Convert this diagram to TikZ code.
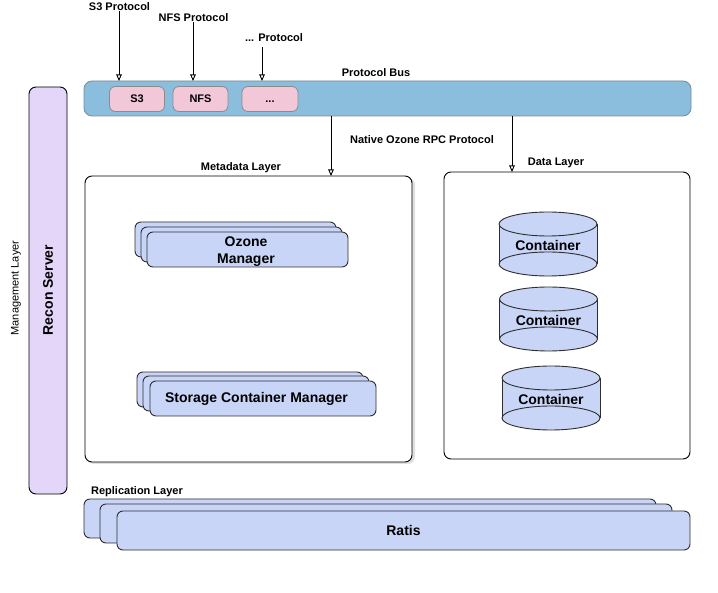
\documentclass[tikz,border=0pt]{standalone}
\usepackage{fontspec}
\setmainfont{Liberation Sans}
\usetikzlibrary{arrows.meta}
\definecolor{busfill}{HTML}{8BBEDD}
\definecolor{busline}{HTML}{7A8A96}
\definecolor{pinkfill}{HTML}{F2C8D9}
\definecolor{pinkline}{HTML}{8E8A8C}
\definecolor{bluefill}{HTML}{C8D5F7}
\definecolor{blueline}{HTML}{2E2E2E}
\definecolor{lavfill}{HTML}{E3D6F8}
\tikzset{
  small/.style={font=\fontsize{11}{13}\selectfont\bfseries},
  big/.style={font=\fontsize{14}{17}\selectfont\bfseries},
  busbox/.style={draw=busline, fill=busfill, rounded corners=8pt, line width=0.8pt},
  protobox/.style={draw=pinkline, fill=pinkfill, rounded corners=6pt, line width=0.8pt, text height=8pt, text depth=0pt},
  bluebox/.style={draw=blueline, fill=bluefill, rounded corners=6pt, line width=0.9pt},
  layerbox/.style={draw=black, fill=white, rounded corners=7pt, line width=0.9pt},
  flow/.style={-{Triangle[open,length=6.5pt,width=5.5pt]}, line width=0.9pt},
}
\begin{document}
\begin{tikzpicture}[x=1pt,y=-1pt]
\useasboundingbox[fill=white] (0,0) rectangle (718,593);

% Protocol bus
\node[small] (buslbl) at (376,73) {Protocol Bus};
\draw[busbox] (84,81) rectangle (691,116);
\coordinate (bustop1) at (119,81);
\coordinate (bustop2) at (193,81);
\coordinate (bustop3) at (262,81);
\coordinate (busbot1) at (331,116);
\coordinate (busbot2) at (512,116);
\node[protobox, minimum width=55pt, minimum height=25pt, small] (s3) at (137,99) {S3};
\node[protobox, minimum width=55pt, minimum height=25pt, small] (nfs) at (200.5,99) {NFS};
\node[protobox, minimum width=56pt, minimum height=25pt, small] (dots) at (270,99) {...};

% Protocol labels and arrows
\node[small] (s3lbl) at (119.5,7) {S3 Protocol};
\node[small] (nfslbl) at (193.5,18) {NFS Protocol};
\node[small] (dotslbl) at (274,38) {... Protocol};
\coordinate (s3start) at (119,11);
\coordinate (nfsstart) at (193,22);
\coordinate (dotsstart) at (262,47);
\draw[flow] (s3start) -- (bustop1);
\draw[flow] (nfsstart) -- (bustop2);
\draw[flow] (dotsstart) -- (bustop3);

% Recon server
\node[font=\fontsize{11}{13}\selectfont, rotate=90] (mgmt) at (16,288) {Management Layer};
\draw[draw=black, fill=lavfill, rounded corners=7pt, line width=0.9pt] (29,87) rectangle (67,494);
\node[big, rotate=90] (recon) at (48,290) {Recon Server};

% Metadata layer
\node[small] (metalbl) at (241,168) {Metadata Layer};
\fill[black!12, rounded corners=7pt] (87,178) rectangle (415,464);
\draw[layerbox] (85,176) rectangle (412,462);
\coordinate (metatop) at (331,176);

% Data layer
\node[small] (datalbl) at (556,163) {Data Layer};
\draw[layerbox] (444,172) rectangle (690,459);
\coordinate (datatop) at (512,172);

% Native arrows
\node[small] (native) at (422,140) {Native Ozone RPC Protocol};
\draw[flow] (busbot1) -- (metatop);
\draw[flow] (busbot2) -- (datatop);

% Ozone manager stack
\draw[bluebox] (135,222) rectangle (336,257);
\draw[bluebox] (141,227) rectangle (342,262);
\node[bluebox, minimum width=201pt, minimum height=35pt] (om) at (247.5,249.5) {};
\node[big, align=center] (omlbl) at (246,251.5) {Ozone\\Manager};

% SCM stack
\draw[bluebox] (137,372) rectangle (363,407);
\draw[bluebox] (143,376) rectangle (369,411);
\node[bluebox, minimum width=226pt, minimum height=35pt] (scm) at (263,398.5) {};
\node[big] (scmlbl) at (256.5,398.5) {Storage Container Manager};

% Containers
\foreach \cx/\yt/\yb/\nm in {548/212/276/c1, 548.5/287/351/c2, 551/366/430/c3}{
  \pgfmathsetmacro{\ya}{\yt+12}
  \pgfmathsetmacro{\yz}{\yb-12}
  \fill[bluefill] (\cx-49,\ya) rectangle (\cx+49,\yz);
  \draw[blueline, line width=0.9pt, fill=bluefill] (\cx,\yz) ellipse [x radius=49pt, y radius=12pt];
  \draw[blueline, line width=0.9pt] (\cx-49,\ya) -- (\cx-49,\yz) (\cx+49,\ya) -- (\cx+49,\yz);
  \draw[blueline, line width=0.9pt, fill=bluefill] (\cx,\ya) ellipse [x radius=49pt, y radius=12pt];
  \node[big] (\nm) at (\cx,{(\yt+\yb)/2+1}) {Container};
}

% Replication layer
\node[small] (repllbl) at (137,492) {Replication Layer};
\draw[bluebox] (84,499) rectangle (656,538);
\draw[bluebox] (100,504) rectangle (672,543);
\node[bluebox, minimum width=573pt, minimum height=39pt, big] (ratis) at (403.5,530.5) {Ratis};
\end{tikzpicture}
\end{document}
